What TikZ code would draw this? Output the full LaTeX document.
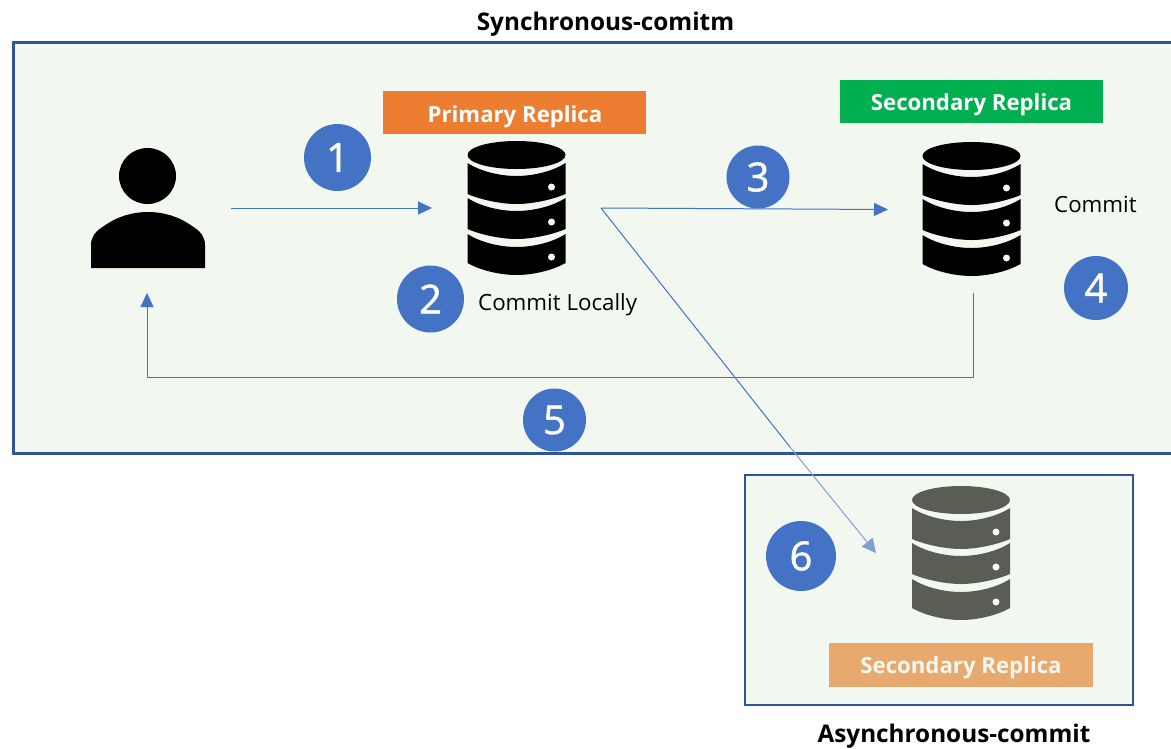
\documentclass[tikz,border=0pt]{standalone}
\usepackage{fontspec}
\setmainfont{Open Sans}
\newfontfamily\digitfont[FakeBold=1.2]{Open Sans}
\usetikzlibrary{arrows.meta}
\definecolor{panelfill}{HTML}{F2F7F0}
\definecolor{panelline}{HTML}{2F5597}
\definecolor{flow}{HTML}{4472C4}
\definecolor{flowpale}{HTML}{7F9FD2}
\definecolor{badgeblue}{HTML}{4472C4}
\definecolor{primarytag}{HTML}{ED7D31}
\definecolor{secondarytag}{HTML}{00B050}
\definecolor{asynctag}{HTML}{E8A96F}
\definecolor{dbgrey}{HTML}{595D54}
\newcommand{\fs}[1]{\fontsize{#1}{#1}\selectfont}
\newcommand{\dbicon}[3]{% cx, top, colour
\begin{scope}[shift={(#1,#2)}]
  \fill[#3] (0,14) ellipse [x radius=49,y radius=14];
  \fill[#3] (-49,22) .. controls (-35,31) and (-15,35) .. (0,35) .. controls (15,35) and (35,31) .. (49,22)
     -- (49,53) .. controls (35,59) and (15,63) .. (0,63) .. controls (-15,63) and (-35,59) .. (-49,53) -- cycle;
  \fill[#3] (-49,57) .. controls (-35,66) and (-15,70) .. (0,70) .. controls (15,70) and (35,66) .. (49,57)
     -- (49,88) .. controls (35,94) and (15,98) .. (0,98) .. controls (-15,98) and (-35,94) .. (-49,88) -- cycle;
  \fill[#3] (-49,93) .. controls (-35,102) and (-15,106) .. (0,106) .. controls (15,106) and (35,102) .. (49,93)
     -- (49,122) .. controls (35,130) and (15,134) .. (0,134) .. controls (-15,134) and (-35,130) .. (-49,122) -- cycle;
  \fill[panelfill] (35,46) circle (3.5) (35,81) circle (3.5) (35,116) circle (3.5);
\end{scope}}
\tikzset{
  panel/.style={draw=panelline,line width=2.2pt,fill=panelfill},
  conn/.style={draw=flow,line width=1pt,-{Triangle[length=14pt,width=13pt]}},
  connplain/.style={draw=flow,line width=1pt},
  connpale/.style={draw=flowpale,line width=1pt,-{Triangle[length=14pt,width=14pt]}},
  badge/.style={circle,fill=badgeblue,text=white,inner sep=0pt,font=\digitfont\fs{40}},
  tag/.style={anchor=center,inner sep=0pt,text=white,font=\bfseries\fs{22.2}},
  title/.style={inner sep=0pt,text=black,font=\bfseries\fs{24.3}},
  note/.style={inner sep=0pt,text=black,font=\fs{22.3}}
}
\begin{document}
\begin{tikzpicture}[x=1pt,y=-1pt]
\useasboundingbox (0,0) rectangle (1171,748);
\fill[white] (0,0) rectangle (1171,748);
% panels
\draw[panel] (13.5,42.5) rectangle (1175,453.5);
\draw[panel] (745,475) rectangle (1133,705);
% titles
\node[title] (syncTitle) at (605.5,24) {Synchronous-comitm};
\node[title] (asyncTitle) at (954,736) {Asynchronous-commit};
% person
\fill[black] (147.5,176) ellipse [x radius=28.5,y radius=28];
\fill[black] (91,268) -- (91,245) .. controls (91,236) and (96,231) .. (104,226)
  .. controls (118,216) and (133,212) .. (148,212)
  .. controls (163,212) and (178,216) .. (192,226)
  .. controls (200,231) and (205,236) .. (205,245) -- (205,268) -- cycle;
% databases
\dbicon{516.5}{141}{black}
\dbicon{971.5}{142}{black}
\dbicon{961}{486}{dbgrey}
% tags
\fill[primarytag] (383,91) rectangle (646,134);
\node[tag] (primaryTag) at (515,117) {Primary Replica};
\fill[secondarytag] (840,80) rectangle (1103,123);
\node[tag] (secondaryTag) at (971.5,105) {Secondary Replica};
\fill[asynctag] (829,643) rectangle (1093,687);
\node[tag,text=panelfill] (asyncTag) at (961,668) {Secondary Replica};
% notes
\node[note,anchor=west] (localNote) at (478,305) {Commit Locally};
\node[note,anchor=west] (commitNote) at (1054,204.5) {Commit};
% connector ends
\coordinate (userOut) at (231,208);
\coordinate (primaryIn) at (432,208);
\coordinate (primaryOut) at (601,208);
\coordinate (secondaryIn) at (888,209.5);
\coordinate (secondaryOut) at (973,293);
\coordinate (returnA) at (973,377);
\coordinate (returnB) at (147,377);
\coordinate (userIn) at (147,293);
\coordinate (fadePoint) at (790,447);
\coordinate (asyncIn) at (876,553);
\draw[conn] (userOut) -- (primaryIn);
\draw[conn] (primaryOut) -- (secondaryIn);
\draw[conn] (secondaryOut) -- (returnA) -- (returnB) -- (userIn);
\draw[connplain] (primaryOut) -- (fadePoint);
\draw[connpale] (fadePoint) -- (asyncIn);
% badges
\node[badge,minimum size=67pt] (b1) at (337.5,157.5) {1};
\node[badge,minimum size=67pt] (b2) at (430.5,299) {2};
\node[badge,minimum size=63pt] (b3) at (758,177) {3};
\node[badge,minimum size=64pt] (b4) at (1096,288) {4};
\node[badge,minimum size=63pt] (b5) at (554.5,420) {5};
\node[badge,minimum size=70pt] (b6) at (801,556) {6};
\end{tikzpicture}
\end{document}
